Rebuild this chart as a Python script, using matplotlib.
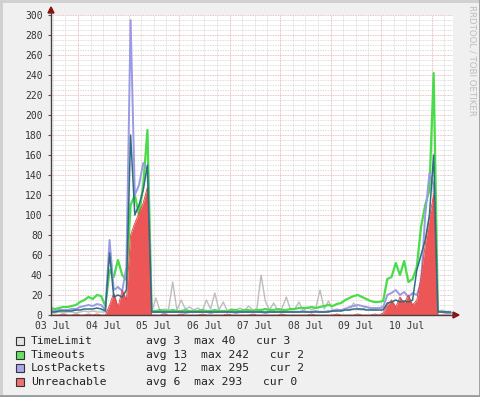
import numpy as np
import matplotlib.pyplot as plt
import matplotlib.patches as patches
from matplotlib.lines import Line2D

W, H = 481, 397

# samples every 2 hours, hours counted from 03 Jul 00:00
t_start, t_step = 11, 2

time_limit = [2, 2, 3, 2, 3, 3, 2, 3, 4, 3, 4, 3, 3,
              3, 5, 8, 6, 10, 7, 12, 9, 14, 10, 12, 3,
              17, 4, 6, 5, 33, 5, 15, 6, 8, 5, 7, 4, 15, 6, 22,
              5, 13, 4, 6, 5, 7, 4, 9, 5, 6, 40, 14, 5, 12, 4,
              7, 18, 5, 6, 13, 4, 8, 5, 7, 25, 6, 14, 5, 6, 4,
              7, 5, 12, 6, 5, 8, 6, 5, 7, 6, 8, 10, 7, 9, 12,
              8, 10, 9, 15, 20, 25, 30, 3, 5, 3, 3]

timeouts = [7, 6, 7, 8, 8, 9, 10, 13, 15, 18, 16, 20, 19,
            9, 45, 38, 55, 40, 35, 110, 120, 100, 130, 185, 4,
            4, 5, 4, 4, 5, 4, 4, 5, 4, 4, 4, 5, 4, 4, 5,
            4, 4, 4, 5, 5, 4, 5, 5, 4, 5, 5, 6, 5, 5, 6,
            5, 5, 6, 6, 7, 7, 7, 8, 7, 8, 9, 10, 9, 11, 12,
            15, 17, 19, 20, 18, 16, 14, 13, 13, 14, 36, 38, 52, 40, 54,
            33, 36, 48, 88, 110, 125, 242, 4, 3, 3, 2]

lost_packets = [4, 4, 5, 5, 5, 6, 6, 8, 9, 10, 9, 11, 10,
                5, 75, 25, 28, 24, 48, 295, 120, 130, 152, 145, 3,
                3, 3, 2, 3, 3, 3, 3, 2, 3, 3, 3, 3, 3, 2, 3,
                3, 3, 3, 3, 2, 3, 3, 3, 3, 3, 3, 2, 3, 3, 3,
                3, 3, 3, 3, 3, 4, 3, 3, 4, 3, 3, 4, 4, 5, 5,
                6, 8, 9, 10, 9, 8, 7, 7, 7, 8, 20, 22, 25, 20, 23,
                18, 22, 20, 32, 100, 142, 130, 3, 3, 2, 2]

unreachable = [0, 0, 0, 1, 0, 0, 1, 0, 0, 1, 0, 1, 0,
               0, 10, 22, 8, 25, 15, 80, 92, 102, 112, 128, 0,
               0, 0, 1, 0, 0, 0, 1, 0, 0, 0, 0, 1, 0, 0, 0,
               0, 0, 1, 0, 0, 0, 0, 0, 1, 0, 0, 0, 0, 0, 0,
               1, 0, 0, 0, 0, 0, 0, 1, 0, 0, 0, 0, 0, 1, 0,
               0, 0, 0, 1, 0, 0, 0, 1, 0, 2, 10, 15, 8, 18, 12,
               20, 10, 15, 38, 70, 98, 120, 0, 0, 0, 0]

# darker average trace seen under the light lines
lost_dark = [3, 3, 4, 4, 4, 4, 5, 5, 6, 6, 6, 7, 6,
             4, 62, 18, 20, 18, 25, 180, 100, 110, 125, 150, 3,
             3, 3, 3, 3, 3, 3, 3, 3, 3, 3, 3, 3, 3, 3, 3,
             3, 3, 3, 3, 3, 3, 3, 3, 3, 3, 3, 3, 3, 3, 3,
             3, 3, 3, 3, 3, 3, 3, 3, 3, 3, 3, 3, 4, 4, 4,
             5, 5, 6, 6, 6, 5, 5, 5, 5, 5, 12, 13, 15, 13, 14,
             13, 15, 45, 60, 75, 100, 160, 3, 3, 3, 3]

day_labels = ["03 Jul", "04 Jul", "05 Jul", "06 Jul",
              "07 Jul", "08 Jul", "09 Jul", "10 Jul"]

legend_names = ["TimeLimit", "Timeouts", "LostPackets", "Unreachable"]
legend_stats = ["avg 3  max 40   cur 3",
                "avg 13  max 242   cur 2",
                "avg 12  max 295   cur 2",
                "avg 6  max 293   cur 0"]
legend_colors = ["#e4e4e4", "#66e066", "#a8a8f0", "#f07070"]

t = t_start + t_step * np.arange(len(timeouts))

fig = plt.figure(figsize=(W / 100, H / 100), dpi=100)
fig.patch.set_facecolor('#f0f0f0')
ax = fig.add_axes([51 / W, (H - 315) / H, 402 / W, 300 / H])
ax.set_facecolor('white')

xl, xr = 11.17, 202.2
ax.set_xlim(xl, xr)
ax.set_ylim(0, 300)

# grid: minor every 6h / 5 units, major every day / 20 units
for h in np.arange(6, 204, 6):
    if h % 24 == 0:
        continue
    ax.axvline(h, color='#d4d4d4', lw=0.6, ls=(0, (1, 1)), zorder=0)
for v in range(5, 301, 5):
    if v % 20 == 0:
        continue
    ax.axhline(v, color='#d4d4d4', lw=0.6, ls=(0, (1, 1)), zorder=0)
for h in range(24, 204, 24):
    ax.axvline(h, color='#e8a8a8', lw=0.6, ls=(0, (1, 1)), zorder=0)
for v in range(20, 301, 20):
    ax.axhline(v, color='#e8a8a8', lw=0.6, ls=(0, (1, 1)), zorder=0)

ax.plot(t, time_limit, color='#bdbdbd', lw=1.0, zorder=2)
ax.plot(t, timeouts, color='#48dc48', lw=1.6, zorder=3)
ax.plot(t, lost_packets, color='#9a9ae6', lw=1.4, zorder=4)
ax.fill_between(t, 0, unreachable, color='#ec5656', lw=0, zorder=5)
ax.plot(t, unreachable, color='#d84040', lw=0.6, zorder=5)
ax.plot(t, lost_dark, color='#2f6d80', lw=1.1, zorder=6)

for s in ax.spines.values():
    s.set_visible(False)

ax.set_yticks(range(0, 301, 20))
ax.set_yticklabels([str(v) for v in range(0, 301, 20)])
ax.set_xticks([12 + 24 * k for k in range(len(day_labels))])
ax.set_xticklabels(day_labels)
ax.tick_params(axis='y', length=2, width=0.8, color='#555555', pad=4,
               labelsize=7, labelcolor='#333333', labelfontfamily='DejaVu Sans Mono')
ax.tick_params(axis='x', length=0, pad=4,
               labelsize=7, labelcolor='#333333', labelfontfamily='DejaVu Sans Mono')


def fx(px):
    return px / W


def fy(py):
    return 1 - py / H


# axis lines with arrow heads
fig.add_artist(Line2D([fx(51), fx(51)], [fy(315), fy(12)], color='#4a4040', lw=1.0))
fig.add_artist(Line2D([fx(51), fx(455)], [fy(315), fy(315)], color='#4a4040', lw=1.0))
fig.add_artist(patches.Polygon([[fx(48), fy(13)], [fx(54), fy(13)], [fx(51), fy(7)]],
                               closed=True, color='#8b1010', transform=fig.transFigure))
fig.add_artist(patches.Polygon([[fx(453), fy(312)], [fx(453), fy(318)], [fx(459), fy(315)]],
                               closed=True, color='#8b1010', transform=fig.transFigure))

# legend
rows_y = [341, 355, 368, 382]
for name, stats, col, ry in zip(legend_names, legend_stats, legend_colors, rows_y):
    fig.add_artist(patches.Rectangle((fx(16), fy(ry + 4)), 8 / W, 8 / H,
                                     facecolor=col, edgecolor='#333333', lw=0.8,
                                     transform=fig.transFigure))
    fig.text(fx(31), fy(ry), name, ha='left', va='center', fontsize=8.2,
             family='DejaVu Sans Mono', color='#222222')
    fig.text(fx(146.5), fy(ry), stats, ha='left', va='center', fontsize=8.2,
             family='DejaVu Sans Mono', color='#222222')

fig.text(fx(472), fy(5), "RRDTOOL / TOBI OETIKER", rotation=270, ha='center', va='top',
         fontsize=6.2, color='#bdbdbd', family='DejaVu Sans')

# 3d frame of the canvas
fig.add_artist(Line2D([0, 1], [fy(1), fy(1)], color='#cfcfcf', lw=2))
fig.add_artist(Line2D([fx(1), fx(1)], [0, 1], color='#cfcfcf', lw=2))
fig.add_artist(Line2D([0, 1], [fy(396), fy(396)], color='#9a9a9a', lw=2))
fig.add_artist(Line2D([fx(480), fx(480)], [0, 1], color='#9a9a9a', lw=2))

fig.savefig('out.png', dpi=100, facecolor=fig.get_facecolor())
